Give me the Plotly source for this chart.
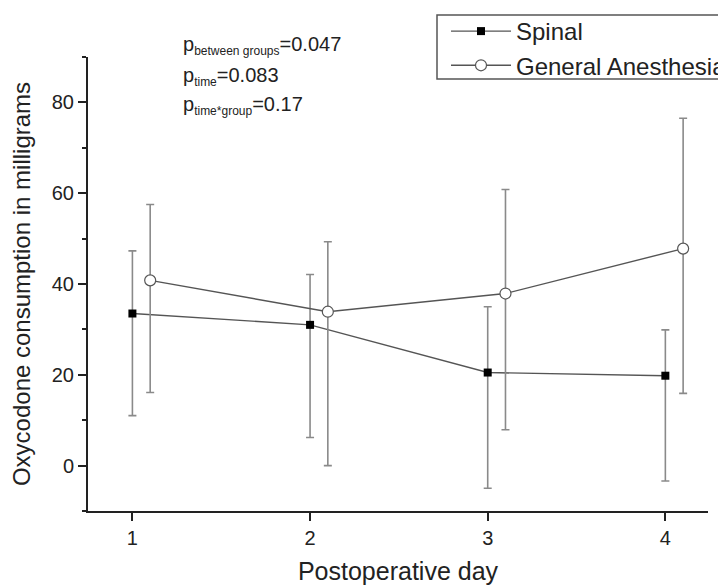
import plotly.graph_objects as go

days = [1, 2, 3, 4]
ga_offset = 0.1
spinal_y = [33.5, 31.0, 20.5, 19.8]
spinal_hi = [47.3, 42.1, 35.0, 29.9]
spinal_lo = [11.0, 6.2, -5.0, -3.4]
ga_y = [40.8, 33.9, 37.9, 47.8]
ga_hi = [57.5, 49.3, 60.8, 76.5]
ga_lo = [16.1, 0.0, 7.9, 15.9]
p_labels = [("between groups", "0.047"), ("time", "0.083"), ("time*group", "0.17")]

FONT = "Arial, Liberation Sans, sans-serif"
OFF = 8  # page body margin
W, H = 726 - OFF, 585 - OFF
ML, MR, MT, MB = 88 - OFF, 18, 57 - OFF, 74
PW, PH = W - ML - MR, H - MT - MB

def px_x(px):  # page pixel -> paper
    return (px - OFF - ML) / PW

def px_y(py):
    return (MT + PH - (py - OFF)) / PH

def err(y, hi, lo):
    return dict(type="data", symmetric=False,
                array=[h - v for h, v in zip(hi, y)],
                arrayminus=[v - l for v, l in zip(y, lo)],
                color="#8a8a8a", thickness=1.6, width=4)

fig = go.Figure()
fig.add_trace(go.Scatter(
    x=days, y=spinal_y, name="Spinal", mode="lines+markers",
    line=dict(color="#555555", width=1.4),
    marker=dict(symbol="square", size=8, color="black", line=dict(color="black", width=0)),
    error_y=err(spinal_y, spinal_hi, spinal_lo)))
fig.add_trace(go.Scatter(
    x=[d + ga_offset for d in days], y=ga_y, name="General Anesthesia", mode="lines+markers",
    line=dict(color="#555555", width=1.4),
    marker=dict(symbol="circle", size=11, color="white", line=dict(color="#555555", width=1.2)),
    error_y=err(ga_y, ga_hi, ga_lo)))

for i, (sub, val) in enumerate(p_labels):
    py = 46 + 30 * i
    fig.add_annotation(
        x=px_x(181), y=px_y(py), xref="paper", yref="paper",
        xanchor="left", yanchor="middle", showarrow=False,
        text=f"p<sub><span style='font-size:12px'>{sub}</span></sub>={val}",
        font=dict(family=FONT, size=20, color="#222222"))

# legend frame
fig.add_shape(type="rect", xref="paper", yref="paper",
              x0=px_x(437), x1=px_x(745), y0=px_y(79), y1=px_y(15),
              line=dict(color="#555555", width=1.5), fillcolor="rgba(0,0,0,0)", layer="above")

fig.update_layout(
    width=W, height=H, margin=dict(l=ML, r=MR, t=MT, b=MB, autoexpand=False),
    paper_bgcolor="white", plot_bgcolor="white",
    font=dict(family=FONT, color="#222222"),
    showlegend=True,
    legend=dict(x=px_x(446), y=px_y(9), xanchor="left", yanchor="top",
                xref="paper", yref="paper",
                borderwidth=0, bgcolor="rgba(255,255,255,0)",
                font=dict(family=FONT, size=24, color="#222222"),
                tracegroupgap=0, itemwidth=60),
    xaxis=dict(range=[0.75, 4.24], tickvals=days, ticktext=[str(d) for d in days],
               automargin=False,
               showgrid=False, zeroline=False, showline=True, linecolor="#222222", linewidth=2,
               ticks="outside", ticklen=8, tickwidth=2, tickcolor="#222222",
               tickfont=dict(family=FONT, size=20, color="#222222"),
               title=dict(text="Postoperative day", font=dict(family=FONT, size=25, color="#222222"), standoff=16)),
    yaxis=dict(range=[-10, 90], tick0=0, dtick=20, automargin=True,
               showgrid=False, zeroline=False, showline=True, linecolor="#222222", linewidth=2,
               ticks="outside", ticklen=8, tickwidth=2, tickcolor="#222222",
               minor=dict(dtick=10, tick0=0, ticks="outside", ticklen=4, tickwidth=1.5, tickcolor="#222222", showgrid=False),
               tickfont=dict(family=FONT, size=20, color="#222222"),
               title=dict(text="Oxycodone consumption in milligrams", font=dict(family=FONT, size=24, color="#222222"), standoff=16)),
)

fig.write_html("out.html")
